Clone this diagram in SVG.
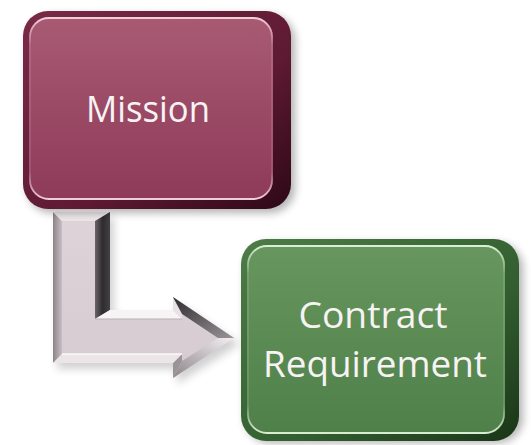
<svg xmlns="http://www.w3.org/2000/svg" width="531" height="445" viewBox="0 0 531 445">
<defs>
  <filter id="shadow" x="-10%" y="-10%" width="130%" height="130%">
    <feGaussianBlur stdDeviation="4"/>
  </filter>
  <linearGradient id="redRim" x1="0" y1="0" x2="1" y2="1">
    <stop offset="0" stop-color="#7a2a47"/>
    <stop offset="0.6" stop-color="#5e1a32"/>
    <stop offset="1" stop-color="#2e0816"/>
  </linearGradient>
  <linearGradient id="redFace" x1="0" y1="0" x2="0" y2="1">
    <stop offset="0" stop-color="#a85a73"/>
    <stop offset="1" stop-color="#8e3a59"/>
  </linearGradient>
  <linearGradient id="greenRim" x1="0" y1="0" x2="1" y2="1">
    <stop offset="0" stop-color="#4e7c48"/>
    <stop offset="0.6" stop-color="#335f30"/>
    <stop offset="1" stop-color="#1a3518"/>
  </linearGradient>
  <linearGradient id="greenFace" x1="0" y1="0" x2="0" y2="1">
    <stop offset="0" stop-color="#67965e"/>
    <stop offset="1" stop-color="#4f8049"/>
  </linearGradient>
  <linearGradient id="hlRed" x1="0" y1="0" x2="0" y2="1">
    <stop offset="0" stop-color="#f4d6e0" stop-opacity="0.95"/>
    <stop offset="0.15" stop-color="#f4d6e0" stop-opacity="0.15"/>
    <stop offset="0.85" stop-color="#f4d6e0" stop-opacity="0.15"/>
    <stop offset="1" stop-color="#f4d6e0" stop-opacity="0.95"/>
  </linearGradient>
  <linearGradient id="hlGreen" x1="0" y1="0" x2="0" y2="1">
    <stop offset="0" stop-color="#e0f4da" stop-opacity="0.95"/>
    <stop offset="0.15" stop-color="#e0f4da" stop-opacity="0.15"/>
    <stop offset="0.85" stop-color="#e0f4da" stop-opacity="0.15"/>
    <stop offset="1" stop-color="#e0f4da" stop-opacity="0.95"/>
  </linearGradient>
  <linearGradient id="darkSide" x1="0" y1="0" x2="1" y2="0">
    <stop offset="0" stop-color="#6a6468"/>
    <stop offset="0.5" stop-color="#2e2c2e"/>
    <stop offset="1" stop-color="#444044"/>
  </linearGradient>
  <linearGradient id="leftSide" x1="0" y1="0" x2="1" y2="0">
    <stop offset="0" stop-color="#8c8489"/>
    <stop offset="1" stop-color="#c8bec3"/>
  </linearGradient>
  <linearGradient id="headDark" x1="0" y1="0" x2="1" y2="1">
    <stop offset="0" stop-color="#2e2c2e"/>
    <stop offset="1" stop-color="#9a9498"/>
  </linearGradient>
  <linearGradient id="headLight" x1="0" y1="1" x2="1" y2="0">
    <stop offset="0" stop-color="#8c8489"/>
    <stop offset="1" stop-color="#f4f0f2"/>
  </linearGradient>
  <linearGradient id="face" x1="0" y1="0" x2="0" y2="1">
    <stop offset="0" stop-color="#ddd3d8"/>
    <stop offset="1" stop-color="#d6cbd1"/>
  </linearGradient>
</defs>
<style>
  .label { font-family: "Open Sans", "Liberation Sans", sans-serif; font-size: 37px; fill: #f7f3f4; text-anchor: middle; }
  .hl { fill: none; stroke-width: 1.8; }
</style>

<g id="connectors">
  <polygon points="57,218 114,218 114,316 177,316 177,303 240,344 177,384 177,369 57,369" fill="#000" opacity="0.18" filter="url(#shadow)"/>
  <polygon points="53,212 110,212 110,310 173,310 173,297 234,338 173,378 173,363 53,363" fill="url(#face)"/>
  <polygon points="53,363 53,212 62,221 62,354" fill="url(#leftSide)"/>
  <polygon points="53,212 110,212 95,221 62,221" fill="#ede7ea"/>
  <polygon points="110,212 110,310 95,319 95,221" fill="url(#darkSide)"/>
  <polygon points="110,310 173,310 182,319 95,319" fill="#f7f4f5"/>
  <polygon points="173,310 173,297 182,314 182,319" fill="#e8e2e5"/>
  <polygon points="173,297 234,338 218,338 182,314" fill="url(#headDark)"/>
  <polygon points="234,338 173,378 182,361 218,338" fill="url(#headLight)"/>
  <polygon points="173,378 173,363 182,354 182,361" fill="#9a9397"/>
  <polygon points="173,363 53,363 62,354 182,354" fill="#ece5e8"/>
  <line x1="62" y1="354" x2="182" y2="354" stroke="#fbf8f9" stroke-width="1.5"/>
  <line x1="95" y1="319" x2="182" y2="319" stroke="#b8afb4" stroke-width="1"/>
</g>

<g id="mission">
  <rect x="27" y="15" width="268" height="198" rx="25" fill="#000" opacity="0.3" filter="url(#shadow)"/>
  <rect x="23" y="11" width="268" height="198" rx="25" fill="url(#redRim)"/>
  <rect x="29" y="17" width="244" height="183" rx="20" fill="url(#redFace)"/>
  <rect x="30" y="18" width="242" height="181" rx="19" class="hl" stroke="url(#hlRed)"/>
  <text class="label" x="148" y="122" textLength="124" lengthAdjust="spacingAndGlyphs">Mission</text>
</g>

<g id="contract">
  <rect x="245" y="243" width="278" height="200" rx="25" fill="#000" opacity="0.3" filter="url(#shadow)"/>
  <rect x="241" y="239" width="278" height="202" rx="25" fill="url(#greenRim)"/>
  <rect x="247" y="245" width="258" height="189" rx="20" fill="url(#greenFace)"/>
  <rect x="248" y="246" width="256" height="187" rx="19" class="hl" stroke="url(#hlGreen)"/>
  <text class="label" x="373" y="328" textLength="149" lengthAdjust="spacingAndGlyphs">Contract</text>
  <text class="label" x="375" y="377" textLength="224" lengthAdjust="spacingAndGlyphs">Requirement</text>
</g>
</svg>
